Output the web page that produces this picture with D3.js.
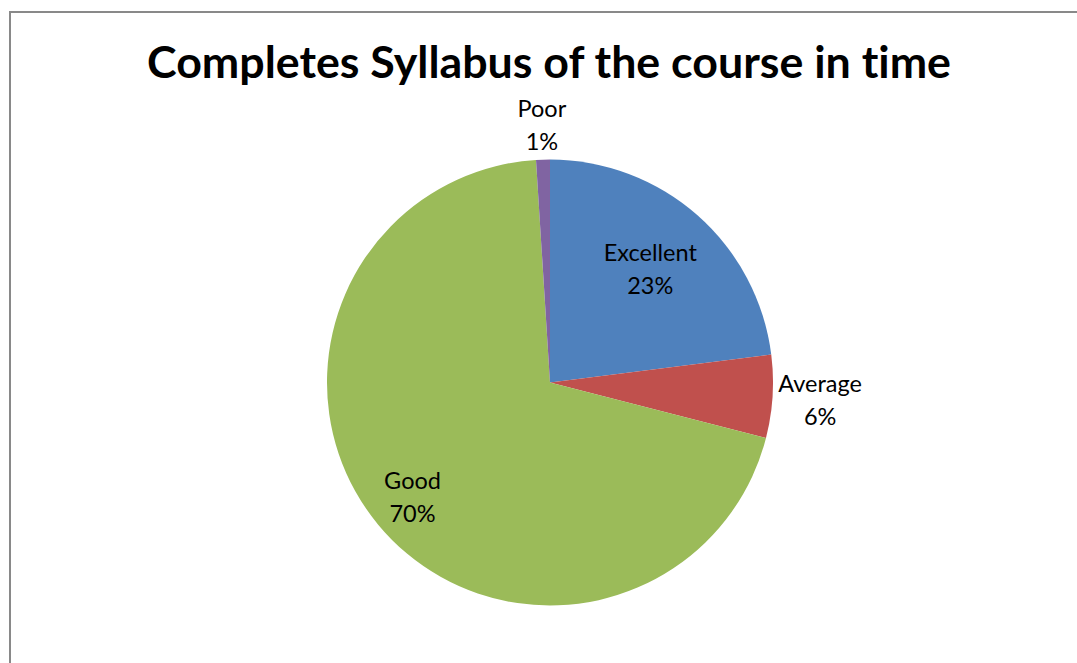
<!DOCTYPE html>
<html>
<head>
<meta charset="utf-8">
<script src="https://cdn.jsdelivr.net/npm/d3@7"></script>
<style>
  body { margin: 0; background: #fff; }
  text { font-family: Lato, "Open Sans", sans-serif; fill: #000; font-variant-ligatures: none; }
</style>
</head>
<body>
<div id="chart"></div>
<script>
// chart data
var categories = ["Excellent", "Average", "Good", "Poor"];
var values = [23, 6, 70, 1];
var pctLabels = ["23%", "6%", "70%", "1%"];
var colors = ["#4F81BD", "#C0504D", "#9BBB59", "#8064A2"];
var insideLabel = [true, false, true, false];

var svgWidth = 1077;
var svgHeight = 663;
var cx = 550, cy = 382.5, radius = 223;

var svg = d3.select("#chart")
  .append("svg")
  .attr("width", svgWidth)
  .attr("height", svgHeight);

// chart frame (runs off right / bottom edge like the screenshot)
svg.append("rect")
  .attr("x", 10).attr("y", 12)
  .attr("width", 1100).attr("height", 700)
  .attr("fill", "#fff")
  .attr("stroke", "#898989")
  .attr("stroke-width", 2);

// title, fitted to the reference width
var title = svg.append("text")
  .attr("x", 549)
  .attr("y", 78)
  .attr("text-anchor", "middle")
  .style("font-weight", "bold")
  .style("font-size", "42px")
  .text("Completes Syllabus of the course in time");
var tw = title.node().getComputedTextLength();
title.style("font-size", (42 * 804 / tw) + "px");

var pie = d3.pie().sort(null).value(function (d) { return d; });
var arcs = pie(values);

var arc = d3.arc().innerRadius(0).outerRadius(radius);

var g = svg.append("g")
  .attr("transform", `translate(${cx}, ${cy})`);

g.selectAll("path")
  .data(arcs)
  .enter()
  .append("path")
  .attr("d", arc)
  .attr("fill", function (d, i) { return colors[i]; });

// labels
var labelArc = d3.arc().innerRadius(radius * 0.68).outerRadius(radius * 0.68);
var labelArcGood = d3.arc().innerRadius(radius * 0.8).outerRadius(radius * 0.8);
var fs = 23.5, lineGap = 33;

arcs.forEach(function (d, i) {
  var lg = g.append("text")
    .attr("text-anchor", "middle")
    .style("font-size", fs + "px");
  lg.append("tspan").attr("x", 0).attr("dy", 0).text(categories[i]);
  lg.append("tspan").attr("x", 0).attr("dy", lineGap).text(pctLabels[i]);

  var bb = lg.node().getBBox();
  var x, y;
  if (insideLabel[i]) {
    var c = (i === 2 ? labelArcGood : labelArc).centroid(d);
    x = c[0]; y = c[1];
  } else {
    var a = (d.startAngle + d.endAngle) / 2;
    var sx = Math.sin(a), sy = -Math.cos(a);
    var half = Math.abs(sx) * bb.width / 2 + Math.abs(sy) * bb.height / 2;
    var r = radius + 4 + half;
    x = sx * r; y = sy * r;
  }
  // center the two-line block on (x, y)
  var midY = bb.y + bb.height / 2;
  lg.attr("transform", `translate(${x}, ${y - midY})`);
});
</script>
</body>
</html>
